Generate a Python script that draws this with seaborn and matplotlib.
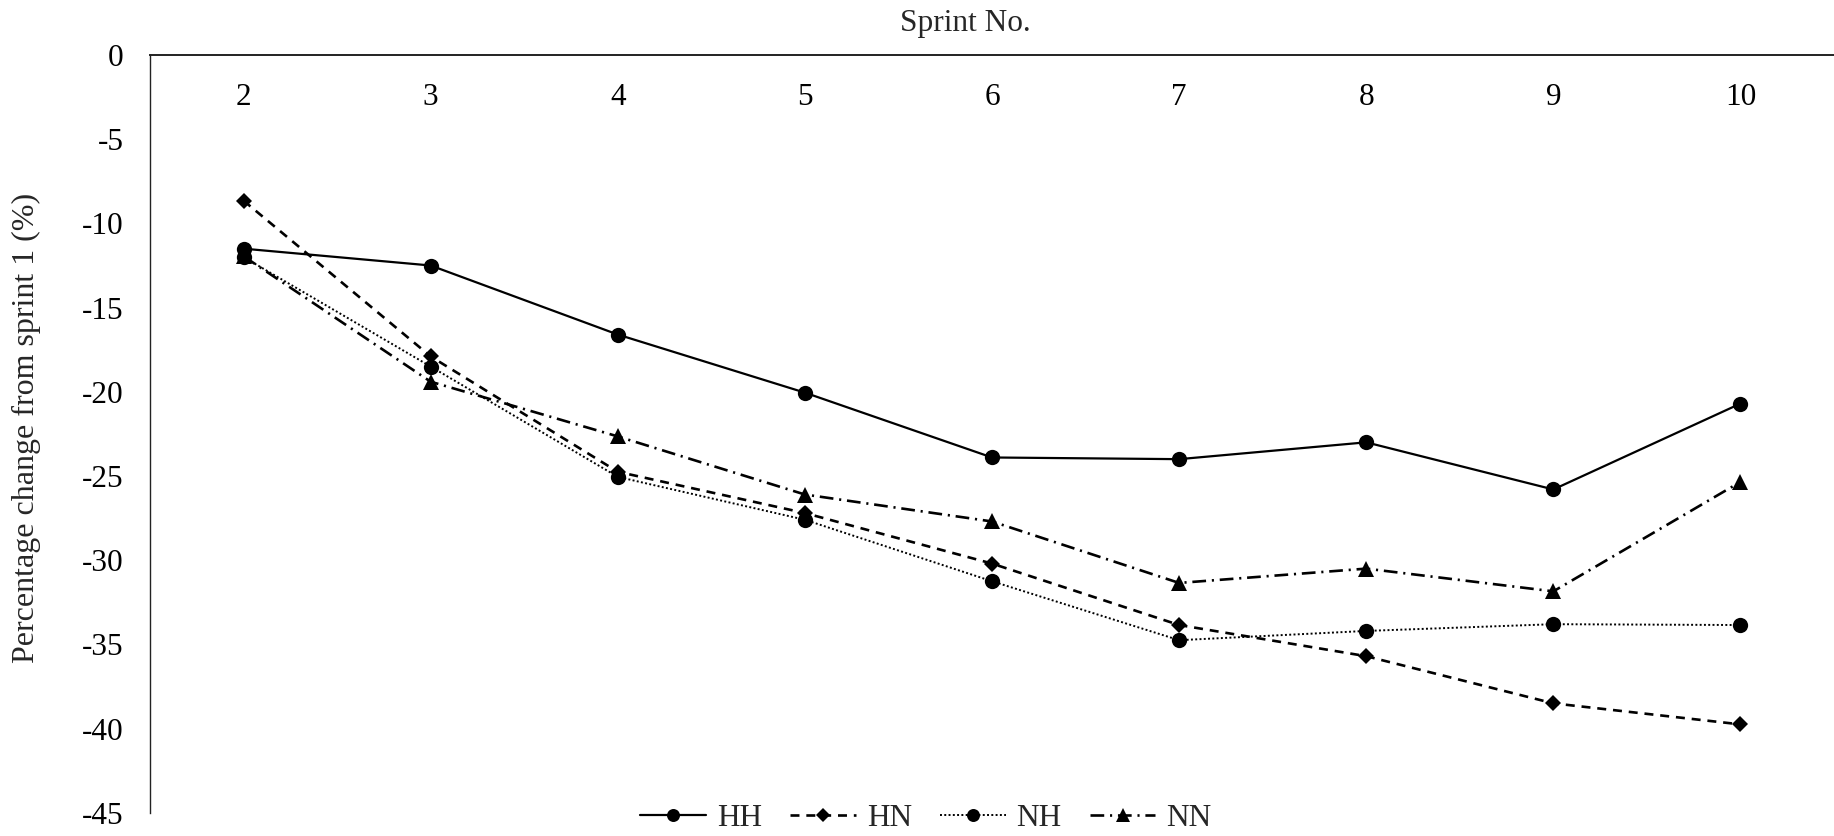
import matplotlib
matplotlib.use("Agg")
import matplotlib.pyplot as plt
import seaborn as sns
import pandas as pd

# Sprint numbers and percentage change from sprint 1 for each condition
sprints = [2, 3, 4, 5, 6, 7, 8, 9, 10]
hh = [-11.5, -12.5, -16.6, -20.05, -23.9, -24.0, -23.0, -25.8, -20.7]
hn = [-8.65, -17.9, -24.75, -27.2, -30.2, -33.85, -35.7, -38.5, -39.75]
nh = [-12.0, -18.5, -25.05, -27.6, -31.25, -34.75, -34.2, -33.8, -33.85]
nn = [-11.95, -19.4, -22.65, -26.1, -27.7, -31.35, -30.5, -31.85, -25.35]

y_ticks = [0, -5, -10, -15, -20, -25, -30, -35, -40, -45]

sns.set_theme(style="white")
plt.rcParams["font.family"] = ["Liberation Serif", "DejaVu Serif"]
plt.rcParams["axes.unicode_minus"] = False

FS = 22.5

fig = plt.figure(figsize=(18.34, 8.36), dpi=100)
ax = fig.add_axes([150 / 1834, 1 - 812.8 / 836, 1 - 150 / 1834, (812.8 - 55) / 836])

df = pd.DataFrame({"sprint": sprints, "HH": hh, "HN": hn, "NH": nh, "NN": nn})

styles = {
    "HH": dict(marker="o", markersize=11, linestyle="-", linewidth=1.6),
    "HN": dict(marker="D", markersize=8.6, linestyle=(0, (3.4, 2.6)),
               linewidth=1.9),
    "NH": dict(marker="o", markersize=11, linestyle=(0, (1, 1.2)),
               linewidth=1.4),
    "NN": dict(marker="^", markersize=11.5, linestyle=(0, (5.2, 2.2, 0.8, 2.2)),
               linewidth=1.9),
}

for name in ["HH", "HN", "NH", "NN"]:
    sns.lineplot(data=df, x="sprint", y=name, ax=ax, color="black",
                 markeredgewidth=0, label=name, **styles[name])

ax.set_xlim(1.5, 10.5)
ax.set_ylim(-45, 0)

# horizontal axis sits at zero (the top), labels hang below it
ax.spines["bottom"].set_position(("data", 0))
ax.spines["top"].set_visible(False)
ax.spines["right"].set_visible(False)
ax.spines["bottom"].set_color("#222222")
ax.spines["bottom"].set_linewidth(1.4)
ax.spines["left"].set_color("#222222")
ax.spines["left"].set_linewidth(1.0)

ax.set_xticks(sprints)
ax.set_xticklabels([str(s) for s in sprints], fontsize=FS)
ax.set_yticks(y_ticks)
ax.set_yticklabels([str(v) for v in y_ticks], fontsize=FS)
ax.tick_params(axis="x", length=0, pad=20, colors="black")
ax.tick_params(axis="y", length=0, pad=19, colors="black")
ax.set_xlabel("")
ax.set_ylabel("")
ax.grid(False)

fig.text(965 / 1834, 1 - 23 / 836, "Sprint No.", ha="center", va="center",
         fontsize=FS)
fig.text(26 / 1834, 1 - 428 / 836, "Percentage change from sprint 1 (%)",
         ha="center", va="center", rotation=90, fontsize=FS + 0.5)

handles, labels = ax.get_legend_handles_labels()
ax.get_legend().remove()
fig.legend(handles, labels, loc="center", ncol=4,
           bbox_to_anchor=(926 / 1834, 1 - 818 / 836),
           frameon=False, fontsize=FS, handlelength=2.1,
           handletextpad=0.35, columnspacing=0.9, markerscale=0.85,
           borderpad=0.0)

fig.savefig("out.png", dpi=100)
